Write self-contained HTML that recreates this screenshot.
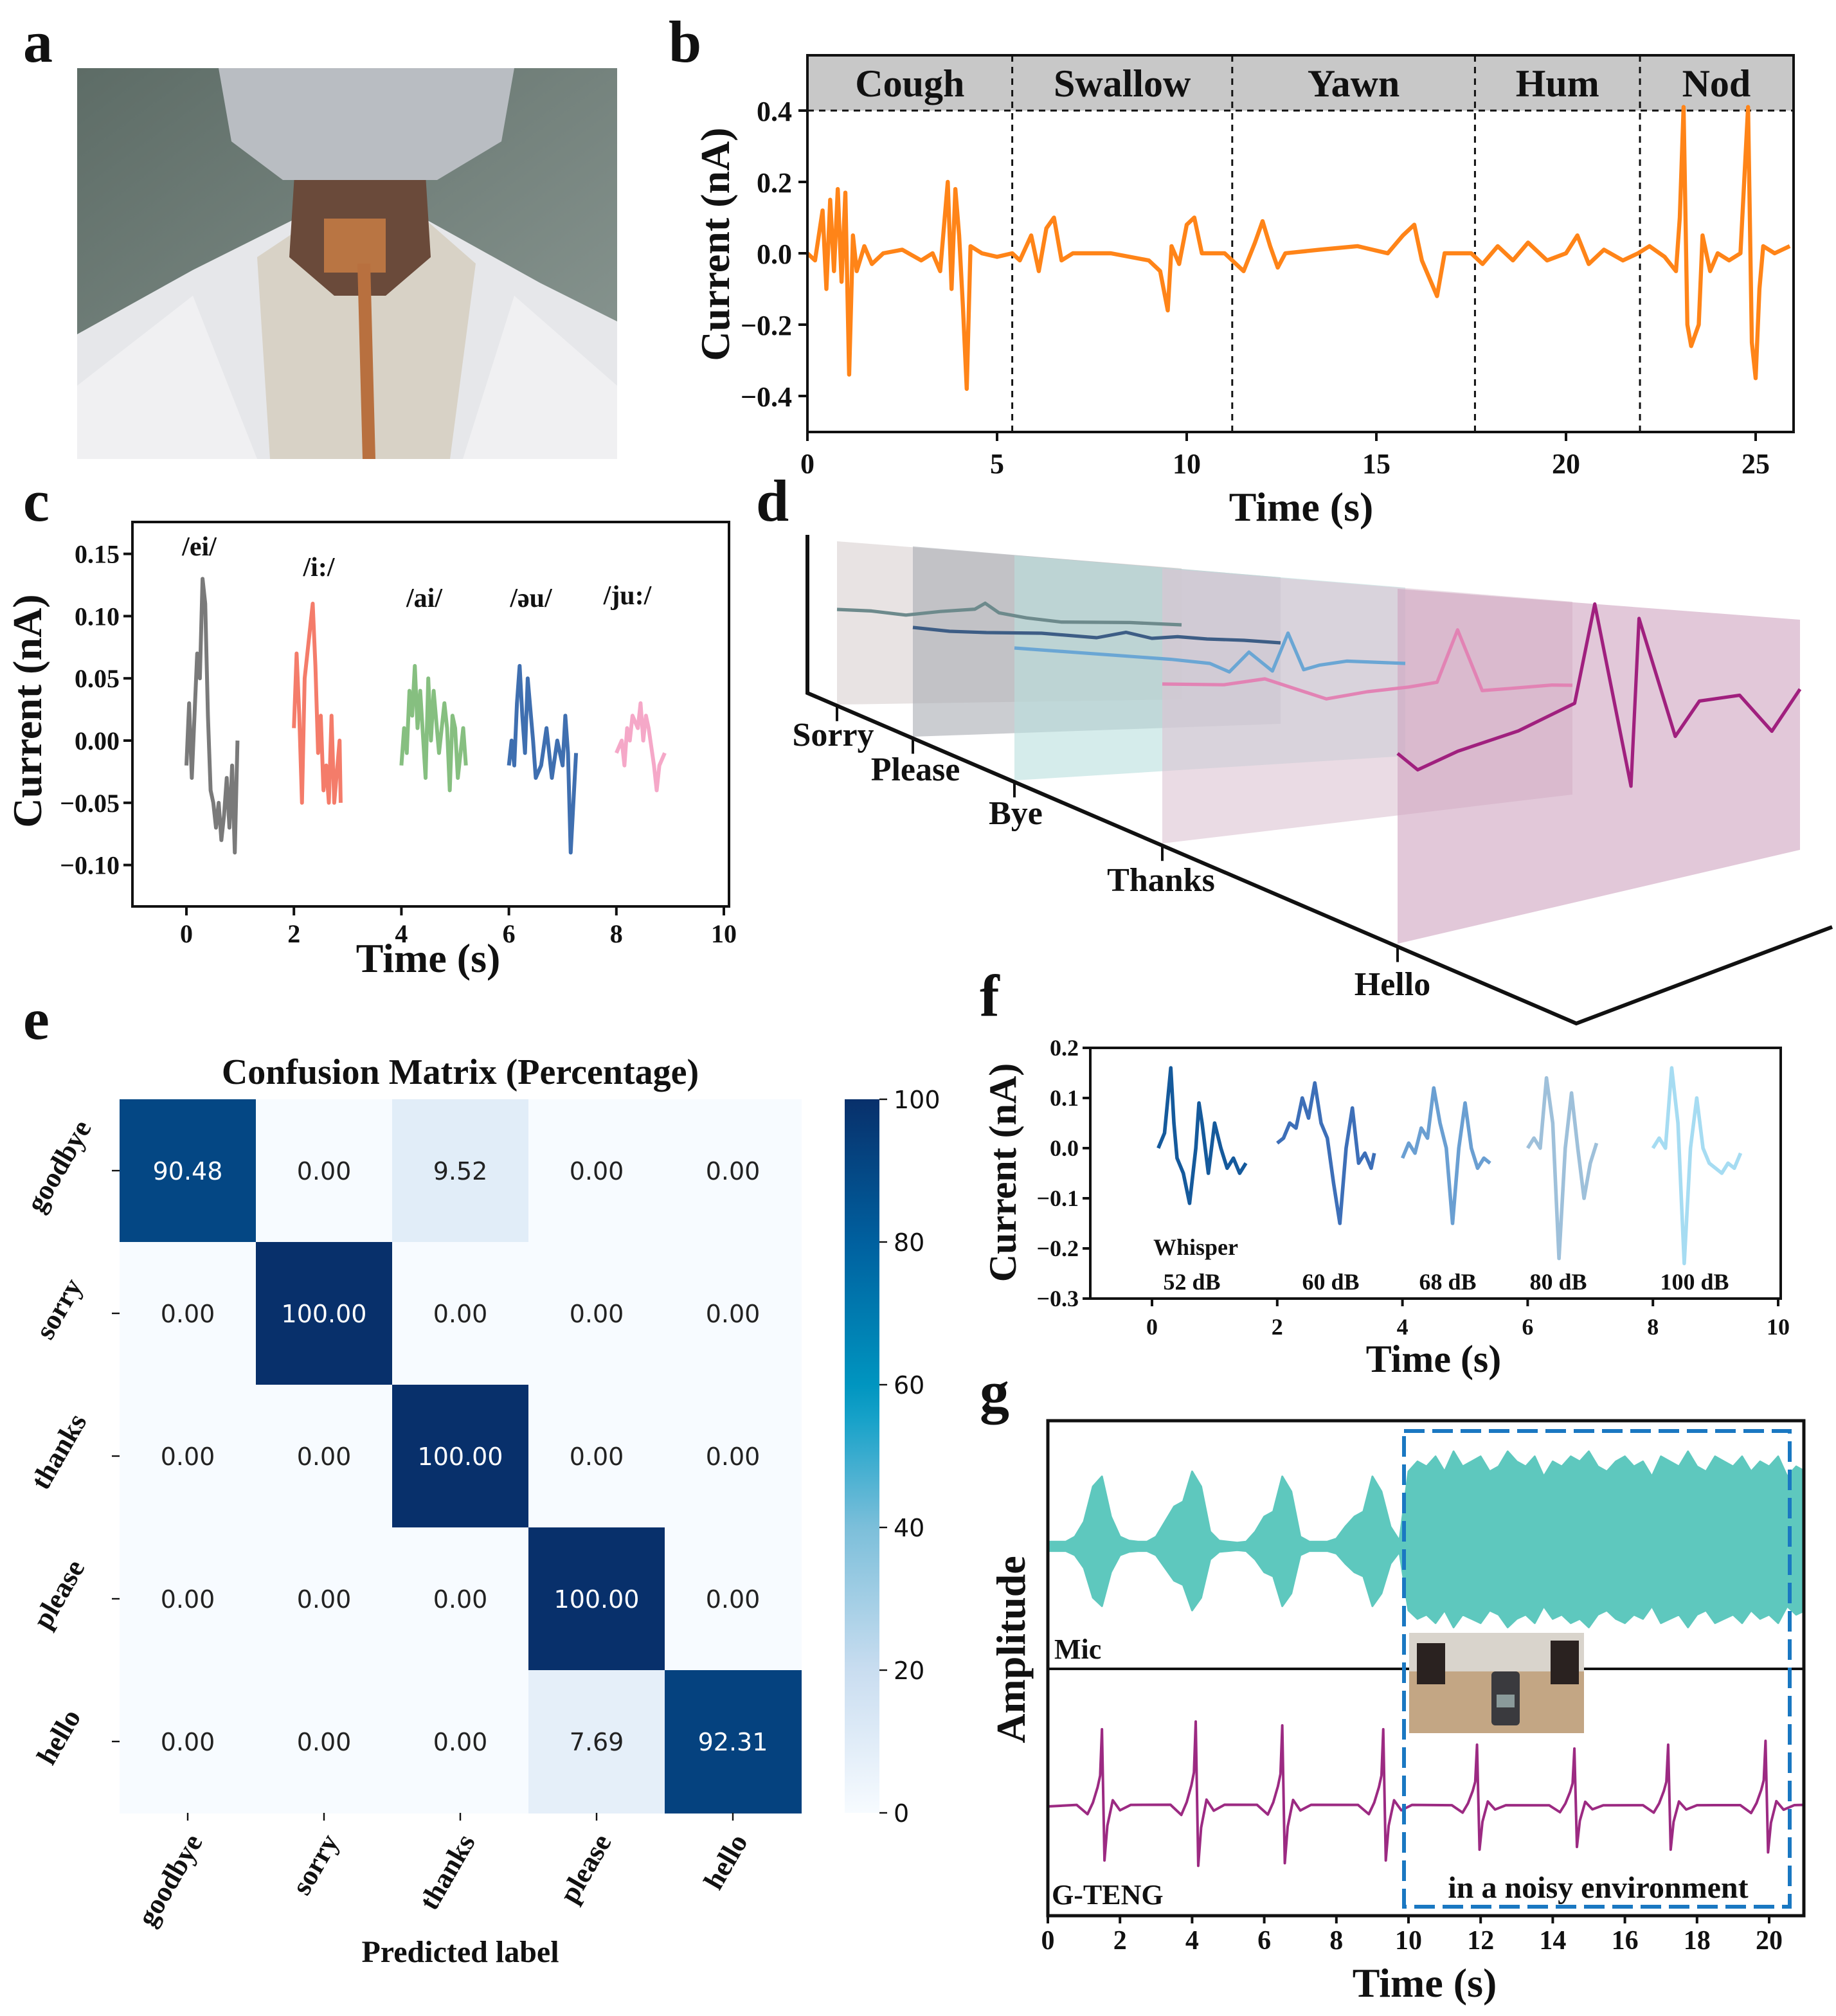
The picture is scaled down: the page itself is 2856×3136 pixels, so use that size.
<!DOCTYPE html>
<html><head><meta charset="utf-8"><style>
html,body{margin:0;padding:0;background:#fff}
svg{display:block}
text{font-family:"Liberation Serif",serif;font-weight:bold;fill:#111}
.dj{font-family:"DejaVu Sans","Liberation Sans",sans-serif;font-weight:normal}
</style></head><body>
<svg id="fig" xmlns="http://www.w3.org/2000/svg" width="2856" height="3136" viewBox="0 0 1428 1568">
<defs>
<linearGradient id="bgA" x1="0" y1="0" x2="1" y2="1"><stop offset="0" stop-color="#5d6c66"/><stop offset="1" stop-color="#8d9a95"/></linearGradient>
<linearGradient id="cbar" x1="0" y1="1" x2="0" y2="0">
<stop offset="0" stop-color="#f7fbff"/><stop offset="0.2" stop-color="#c9ddf0"/><stop offset="0.4" stop-color="#7cbfda"/><stop offset="0.55" stop-color="#18a2c9"/><stop offset="0.6" stop-color="#0095c0"/><stop offset="0.8" stop-color="#00609f"/><stop offset="1" stop-color="#08306b"/></linearGradient>
<clipPath id="gclip"><rect x="815" y="1105" width="588" height="385"/></clipPath>
</defs>
<text x="18" y="48" font-size="46">a</text>
<text x="520" y="48" font-size="46">b</text>
<text x="18" y="405" font-size="46">c</text>
<text x="588" y="405" font-size="46">d</text>
<text x="18" y="808" font-size="46">e</text>
<text x="762" y="790" font-size="46">f</text>
<text x="762" y="1098" font-size="46">g</text>

<g>
<rect x="60" y="53" width="420" height="304" fill="url(#bgA)"/>
<polygon points="60,260 150,210 230,170 330,170 420,220 480,250 480,357 60,357" fill="#e6e7ea"/>
<polygon points="200,200 245,170 330,170 370,205 350,357 210,357" fill="#d8d2c6"/>
<polygon points="230,120 330,120 335,200 300,230 260,230 225,200" fill="#6a4a3a"/>
<polygon points="170,53 400,53 390,110 340,140 220,140 180,110" fill="#b9bdc2"/>
<rect x="252" y="170" width="48" height="42" fill="#c27a45" opacity="0.9"/>
<polygon points="278,205 288,205 292,357 282,357" fill="#b8703f"/>
<polygon points="60,300 150,230 200,357 60,357" fill="#f0f0f2"/>
<polygon points="480,300 400,230 360,357 480,357" fill="#f0f0f2"/>
</g>

<g id="pb"></g>
<g id="pc"></g>
<g id="pd"></g>
<g id="pe"></g>
<g id="pf"></g>
<g id="pg"></g>
</svg>
<script>
const bT=[0,0.2,0.4,0.5,0.6,0.7,0.8,0.9,1.0,1.1,1.2,1.3,1.5,1.7,2.0,2.5,3.0,3.3,3.5,3.7,3.8,3.9,4.0,4.1,4.2,4.3,4.6,5.0,5.4,5.6,5.9,6.1,6.3,6.5,6.7,7.0,8.0,9.0,9.3,9.5,9.6,9.8,10.0,10.2,10.4,11.0,11.2,11.5,11.8,12.0,12.2,12.4,12.6,13.5,14.5,15.3,15.7,16.0,16.2,16.6,16.8,17.5,17.8,18.2,18.6,19.0,19.5,20.0,20.3,20.6,21.0,21.5,21.9,22.2,22.6,22.9,23.0,23.1,23.2,23.3,23.5,23.6,23.8,24.0,24.3,24.6,24.8,24.9,25.0,25.1,25.2,25.5,25.9];
const bV=[0,-0.02,0.12,-0.1,0.15,-0.05,0.18,-0.08,0.17,-0.34,0.05,-0.05,0.02,-0.03,0,0.01,-0.02,0,-0.05,0.2,-0.1,0.18,0.05,-0.15,-0.38,0.02,0,-0.01,0,-0.02,0.05,-0.05,0.07,0.1,-0.02,0,0,-0.02,-0.05,-0.16,0.02,-0.03,0.08,0.1,0,0,-0.02,-0.05,0.03,0.09,0.02,-0.04,0,0.01,0.02,0,0.05,0.08,-0.02,-0.12,0,0,-0.03,0.02,-0.02,0.03,-0.02,0,0.05,-0.03,0.01,-0.02,0,0.02,-0.01,-0.05,0.1,0.41,-0.2,-0.26,-0.2,0.05,-0.05,0,-0.02,0,0.41,-0.25,-0.35,-0.1,0.02,0,0.02];
const bSegNames=["Cough","Swallow","Yawn","Hum","Nod"];
const bSegBounds=[0,5.4,11.2,17.6,21.95,25.98];
const bXTicks=[0,5,10,15,20,25];
const bYTicks=[-0.4,-0.2,0.0,0.2,0.4];

const cNames=["/ei/","/i:/","/ai/","/əu/","/ju:/"];
const cColors=["#7a7a7a","#f47c6a","#86bf80","#3f6fb0","#f5a8c8"];
const cT=[
[0,0.05,0.1,0.15,0.2,0.25,0.3,0.35,0.4,0.45,0.5,0.55,0.6,0.65,0.7,0.75,0.8,0.85,0.9,0.95],
[2.0,2.05,2.1,2.15,2.2,2.3,2.35,2.4,2.45,2.5,2.55,2.6,2.65,2.7,2.75,2.85,2.87],
[4.0,4.05,4.1,4.15,4.2,4.25,4.3,4.35,4.45,4.5,4.55,4.6,4.7,4.8,4.85,4.9,4.95,5.0,5.05,5.15,5.2],
[6.0,6.05,6.1,6.15,6.2,6.25,6.3,6.35,6.45,6.5,6.6,6.7,6.8,6.9,7.0,7.05,7.1,7.15,7.25],
[8.0,8.1,8.15,8.2,8.25,8.3,8.4,8.45,8.5,8.55,8.6,8.7,8.75,8.8,8.9]];
const cV=[
[-0.02,0.03,-0.03,0.02,0.07,0.05,0.13,0.11,0.02,-0.04,-0.05,-0.07,-0.05,-0.08,-0.06,-0.03,-0.07,-0.02,-0.09,0.0],
[0.01,0.07,0.02,-0.05,0.05,0.09,0.11,0.06,-0.01,0.02,-0.04,-0.02,-0.05,0.02,-0.05,0.0,-0.05],
[-0.02,0.01,-0.01,0.04,0.02,0.06,0.01,0.04,-0.03,0.05,0.0,0.04,-0.01,0.03,0.01,-0.04,0.02,0.01,-0.03,0.01,-0.02],
[-0.02,0.0,-0.02,0.03,0.06,0.02,-0.01,0.05,0.0,-0.03,-0.02,0.01,-0.03,0.0,-0.02,0.02,-0.01,-0.09,-0.01],
[-0.01,0.0,-0.02,0.01,0.0,0.02,0.01,0.03,0.0,0.02,0.01,-0.02,-0.04,-0.02,-0.01]];
const cXTicks=[0,2,4,6,8,10];
const cYTicks=[0.15,0.10,0.05,0.00,-0.05,-0.10];

const eRows=["goodbye","sorry","thanks","please","hello"];
const eCols=["goodbye","sorry","thanks","please","hello"];
const eVals=[[90.48,0,9.52,0,0],[0,100,0,0,0],[0,0,100,0,0],[0,0,0,100,0],[0,0,0,7.69,92.31]];
const eCbarTicks=[0,20,40,60,80,100];

const fNames=["52 dB","60 dB","68 dB","80 dB","100 dB"];
const fColors=["#155a9c","#3d6fb8","#6a9fd2","#9ec0da","#a6dcf2"];
const fT=[
[0.1,0.2,0.3,0.35,0.4,0.5,0.6,0.7,0.75,0.8,0.9,1.0,1.1,1.2,1.3,1.4,1.5],
[2.0,2.1,2.2,2.3,2.4,2.5,2.6,2.7,2.8,2.9,3.0,3.1,3.2,3.3,3.4,3.5,3.55],
[4.0,4.1,4.2,4.3,4.4,4.5,4.6,4.7,4.8,4.9,5.0,5.1,5.2,5.3,5.4],
[6.0,6.1,6.2,6.3,6.4,6.5,6.6,6.7,6.8,6.9,7.0,7.1],
[8.0,8.1,8.2,8.3,8.4,8.5,8.6,8.7,8.8,8.9,9.0,9.1,9.2,9.3,9.4]];
const fV=[
[0.0,0.03,0.16,0.05,-0.02,-0.05,-0.11,0.0,0.09,0.05,-0.05,0.05,0.0,-0.04,-0.02,-0.05,-0.03],
[0.01,0.02,0.05,0.04,0.1,0.06,0.13,0.05,0.02,-0.07,-0.15,0.0,0.08,-0.03,-0.01,-0.04,-0.01],
[-0.02,0.01,-0.01,0.04,0.02,0.12,0.05,0.0,-0.15,0.0,0.09,0.0,-0.04,-0.02,-0.03],
[0.0,0.02,0.0,0.14,0.05,-0.22,0.0,0.11,0.0,-0.1,-0.03,0.01],
[0.0,0.02,0.0,0.16,0.05,-0.23,0.0,0.1,0.0,-0.03,-0.04,-0.05,-0.03,-0.04,-0.01]];
const fXTicks=[0,2,4,6,8,10];
const fYTicks=[0.2,0.1,0.0,-0.1,-0.2,-0.3];

const gMicStep=0.25;
const gMicAmp=[0.05,0.05,0.05,0.1,0.25,0.6,0.7,0.3,0.1,0.06,0.05,0.05,0.1,0.25,0.4,0.45,0.75,0.6,0.15,0.06,0.05,0.04,0.05,0.15,0.3,0.35,0.7,0.55,0.1,0.05,0.05,0.05,0.08,0.2,0.3,0.35,0.7,0.55,0.2,0.06,0.75,
0.85,0.8,0.9,0.75,0.95,0.8,0.85,0.9,0.75,0.8,0.95,0.85,0.8,0.9,0.7,0.85,0.8,0.9,0.85,0.95,0.8,0.75,0.85,0.9,0.8,0.85,0.7,0.9,0.85,0.8,0.95,0.8,0.75,0.9,0.85,0.8,0.9,0.75,0.85,0.8,0.9,0.7,0.8,0.75];
const gPeakT=[1.5,4.1,6.5,9.3,11.9,14.6,17.2,19.9];
const gPeakAmp=[1.0,1.1,1.05,1.0,0.8,0.75,0.8,0.85];
const gTplOff=[-0.7,-0.4,-0.25,-0.12,-0.05,0,0.07,0.15,0.3,0.5,0.8];
const gTplVal=[0.02,-0.1,0.05,0.25,0.4,1.0,-0.7,-0.25,0.08,-0.05,0.02];
const gXTicks=[0,2,4,6,8,10,12,14,16,18,20];

const dWords=["Sorry","Please","Bye","Thanks","Hello"];
const dPlaneColors=["#d8d0d0","#a9abb2","#b9e0dd","#dcc3d2","#cfa3bf"];
const dLineColors=["#6d8a8c","#3d5d85","#6aa6d4","#e283b4","#a0207e"];
const dLineU=[
[0,0.1,0.2,0.3,0.4,0.43,0.47,0.55,0.65,0.75,0.85,1.0],
[0,0.1,0.2,0.35,0.5,0.58,0.65,0.72,0.8,0.9,1.0],
[0,0.2,0.4,0.5,0.55,0.6,0.66,0.7,0.74,0.78,0.85,1.0],
[0,0.15,0.25,0.4,0.5,0.55,0.6,0.67,0.72,0.78,0.85,0.95,1.0],
[0,0.05,0.15,0.3,0.44,0.49,0.58,0.6,0.69,0.75,0.85,0.93,1.0]];
const dLineV=[
[0,0,-2,2,5,10,3,0,-2,-1,0,0],
[0,-2,-2,-1,-3,2,-2,0,-1,-1,-2],
[0,-2,-4,-6,-12,4,-10,20,-8,-4,0,0],
[0,0,5,-10,-4,-2,0,4,45,-2,0,3,3],
[0,-14,-2,10,28,104,-40,90,-4,22,24,-6,25]];

const NS="http://www.w3.org/2000/svg";
function mk(parent,tag,attrs,txt){const e=document.createElementNS(NS,tag);for(const k in attrs)e.setAttribute(k,attrs[k]);if(txt!==undefined)e.textContent=txt;parent.appendChild(e);return e;}
function fmt(v,d){return v.toFixed(d).replace("-","−");}

(function(){
const g=document.getElementById('pb');
const X0=628,X1=1395,Y0=43,Y1=336;
const bx=t=>628+t*29.5, by=v=>197-v*277.5;
let r=mk(g,'rect',{x:X0,y:Y0,width:X1-X0,height:86-Y0,fill:'#c8c8c8'});


for(let i=0;i<bSegNames.length;i++){
 const xm=(bx(bSegBounds[i])+bx(bSegBounds[i+1]))/2;
 let t=mk(g,'text',{x:xm,y:75,'font-size':30,'text-anchor':'middle'},bSegNames[i]);
 
 
 if(i>0){let l=mk(g,'line',{x1:bx(bSegBounds[i]),x2:bx(bSegBounds[i]),y1:Y0,y2:Y1,stroke:'#111','stroke-width':1.5,'stroke-dasharray':'5,4'});
 
 }
}
let hl=mk(g,'line',{x1:X0,x2:X1,y1:86,y2:86,stroke:'#111','stroke-width':1.5,'stroke-dasharray':'5,4'});


let p=mk(g,'polyline',{points:bT.map((t,i)=>bx(t)+','+by(bV[i])).join(' '),fill:'none',stroke:'#ff8418','stroke-width':3.2,'stroke-linejoin':'round'});


let fr=mk(g,'rect',{x:X0,y:Y0,width:X1-X0,height:Y1-Y0,fill:'none',stroke:'#111','stroke-width':2});


bXTicks.forEach(v=>{mk(g,'line',{x1:bx(v),x2:bx(v),y1:Y1,y2:Y1+7,stroke:'#111','stroke-width':2});
 let t=mk(g,'text',{x:bx(v),y:Y1+32,'font-size':22,'text-anchor':'middle'},String(v));
 
 });
bYTicks.forEach(v=>{mk(g,'line',{x1:X0-7,x2:X0,y1:by(v),y2:by(v),stroke:'#111','stroke-width':2});
 let t=mk(g,'text',{x:X0-12,y:by(v)+8,'font-size':22,'text-anchor':'end'},fmt(v,1));
 
 });
let yl=mk(g,'text',{x:0,y:0,'font-size':32,'text-anchor':'middle',transform:'translate(567,190) rotate(-90)'},'Current (nA)');


let xl=mk(g,'text',{x:1012,y:405,'font-size':32,'text-anchor':'middle'},'Time (s)');


})();

(function(){
const g=document.getElementById('pc');
const X0=103,X1=567,Y0=406,Y1=705;
const cx=t=>145+t*41.8, cy=v=>576-v*968;
const labPos=[[155,432],[248,448],[330,472],[413,472],[488,470]];
for(let i=0;i<cT.length;i++){
 let p=mk(g,'polyline',{points:cT[i].map((t,j)=>cx(t)+','+cy(cV[i][j])).join(' '),fill:'none',stroke:cColors[i],'stroke-width':3,'stroke-linejoin':'round'});
 
 
 let t=mk(g,'text',{x:labPos[i][0],y:labPos[i][1],'font-size':21,'text-anchor':'middle'},cNames[i]);
 
 
}
let fr=mk(g,'rect',{x:X0,y:Y0,width:X1-X0,height:Y1-Y0,fill:'none',stroke:'#111','stroke-width':2});


cXTicks.forEach(v=>{mk(g,'line',{x1:cx(v),x2:cx(v),y1:Y1,y2:Y1+7,stroke:'#111','stroke-width':2});
 let t=mk(g,'text',{x:cx(v),y:Y1+28,'font-size':20,'text-anchor':'middle'},String(v));
 
 });
cYTicks.forEach(v=>{mk(g,'line',{x1:X0-7,x2:X0,y1:cy(v),y2:cy(v),stroke:'#111','stroke-width':2});
 let t=mk(g,'text',{x:X0-10,y:cy(v)+7,'font-size':20,'text-anchor':'end'},fmt(v,2));
 
 });
let yl=mk(g,'text',{x:0,y:0,'font-size':32,'text-anchor':'middle',transform:'translate(32,553) rotate(-90)'},'Current (nA)');


let xl=mk(g,'text',{x:333,y:756,'font-size':32,'text-anchor':'middle'},'Time (s)');


})();

(function(){
const g=document.getElementById('pd');
const planes=[[651,919,421,442,548,544],[710,996,425,449,573,563],[789,1093,432,457,607,588],[904,1223,442,468,656,618],[1087,1400,458,482,734,661]];
const lineY=[[474,486],[488,498],[504,516],[532,536],[586,561]];
for(let i=0;i<5;i++){
 const [L,R,tl,tr,bl,br]=planes[i];
 let pl=mk(g,'polygon',{points:`${L},${tl} ${R},${tr} ${R},${br} ${L},${bl}`,fill:dPlaneColors[i],opacity:0.6});
 
 
}
for(let i=0;i<5;i++){
 const [L,R]=planes[i];const [ya,yb]=lineY[i];
 const pts=dLineU[i].map((u,j)=>{const x=L+u*(R-L);const y=ya+u*(yb-ya)-dLineV[i][j];return x+','+y;}).join(' ');
 let p=mk(g,'polyline',{points:pts,fill:'none',stroke:dLineColors[i],'stroke-width':2.6,'stroke-linejoin':'round'});
 
 
}
let ax=mk(g,'polyline',{points:'628,416 628,539 1226,796 1425,721',fill:'none',stroke:'#111','stroke-width':3});


const labs=[[648,580],[712,607],[790,641],[903,693],[1083,774]];
for(let i=0;i<5;i++){
 const L=planes[i][0];const yb=539+(L-628)*(257/598);
 mk(g,'line',{x1:L,x2:L,y1:yb,y2:yb+12,stroke:'#111','stroke-width':2});
 let t=mk(g,'text',{x:labs[i][0],y:labs[i][1],'font-size':26,'text-anchor':'middle'},dWords[i]);
 
 
}
})();

(function(){
const g=document.getElementById('pe');
const X0=93,Y0=855,W=106,H=111;
const stops=[[0,[247,251,255]],[20,[201,221,240]],[40,[124,191,218]],[55,[24,162,201]],[60,[0,149,192]],[80,[0,96,159]],[100,[8,48,107]]];
function col(v){for(let k=1;k<stops.length;k++){if(v<=stops[k][0]){const a=stops[k-1],b=stops[k];const f=(v-a[0])/(b[0]-a[0]);const c=a[1].map((x,i)=>Math.round(x+(b[1][i]-x)*f));return `rgb(${c})`;}}return 'rgb(8,48,107)';}
for(let r=0;r<5;r++)for(let c=0;c<5;c++){
 const v=eVals[r][c];
 let rc=mk(g,'rect',{x:X0+c*W,y:Y0+r*H,width:W+0.5,height:H+0.5,fill:col(v)});
 
 
 let t=mk(g,'text',{x:X0+c*W+W/2,y:Y0+r*H+H/2+7,'font-size':19,'text-anchor':'middle',class:'dj',style:'fill:'+(v>50?'#fff':'#222')},v.toFixed(2));
 
 
}
eRows.forEach((n,r)=>{const y=Y0+r*H+H/2;mk(g,'line',{x1:X0-6,x2:X0,y1:y,y2:y,stroke:'#111','stroke-width':1.2});
 let t=mk(g,'text',{x:0,y:0,'font-size':22,'text-anchor':'middle',transform:`translate(52,${y}) rotate(-60)`},n);
 
 });
eCols.forEach((n,c)=>{const x=X0+c*W+W/2;mk(g,'line',{x1:x,x2:x,y1:Y0+5*H,y2:Y0+5*H+6,stroke:'#111','stroke-width':1.2});
 let t=mk(g,'text',{x:0,y:0,'font-size':22,'text-anchor':'end',transform:`translate(${x+12},${Y0+5*H+22}) rotate(-60)`},n);
 
 });
let ti=mk(g,'text',{x:358,y:843,'font-size':28,'text-anchor':'middle'},'Confusion Matrix (Percentage)');


let xl=mk(g,'text',{x:358,y:1526,'font-size':24,'text-anchor':'middle'},'Predicted label');


let cb=mk(g,'rect',{x:657,y:855,width:27,height:555,fill:'url(#cbar)'});


eCbarTicks.forEach(v=>{const y=1410-v*5.55;mk(g,'line',{x1:684,x2:690,y1:y,y2:y,stroke:'#111','stroke-width':1.2});
 let t=mk(g,'text',{x:695,y:y+7,'font-size':19,class:'dj'},String(v));
 
 });
})();

(function(){
const g=document.getElementById('pf');
const X0=848,X1=1385,Y0=815,Y1=1010;
const fx=t=>896+t*48.7, fy=v=>893-v*390;
const labx=[927,1035,1126,1212,1318];
for(let i=0;i<fT.length;i++){
 let p=mk(g,'polyline',{points:fT[i].map((t,j)=>fx(t)+','+fy(fV[i][j])).join(' '),fill:'none',stroke:fColors[i],'stroke-width':2.8,'stroke-linejoin':'round'});
 
 
 let t=mk(g,'text',{x:labx[i],y:1003,'font-size':18,'text-anchor':'middle'},fNames[i]);
 
 
}
let w=mk(g,'text',{x:930,y:976,'font-size':18,'text-anchor':'middle'},'Whisper');


let fr=mk(g,'rect',{x:X0,y:Y0,width:X1-X0,height:Y1-Y0,fill:'none',stroke:'#111','stroke-width':2});


fXTicks.forEach(v=>{mk(g,'line',{x1:fx(v),x2:fx(v),y1:Y1,y2:Y1+6,stroke:'#111','stroke-width':2});
 let t=mk(g,'text',{x:fx(v),y:Y1+28,'font-size':18,'text-anchor':'middle'},String(v));
 
 });
fYTicks.forEach(v=>{mk(g,'line',{x1:X0-6,x2:X0,y1:fy(v),y2:fy(v),stroke:'#111','stroke-width':2});
 let t=mk(g,'text',{x:X0-9,y:fy(v)+6,'font-size':18,'text-anchor':'end'},fmt(v,1));
 
 });
let yl=mk(g,'text',{x:0,y:0,'font-size':30,'text-anchor':'middle',transform:'translate(790,912) rotate(-90)'},'Current (nA)');


let xl=mk(g,'text',{x:1115,y:1067,'font-size':30,'text-anchor':'middle'},'Time (s)');


})();

(function(){
const g=document.getElementById('pg');
const X0=815,X1=1403,Y0=1105,Y1=1490;
const gx=t=>815+t*28.05;
const micC=1203, tenC=1405;
const clipG=mk(g,'g',{'clip-path':'url(#gclip)'});
let top=[],bot=[];
gMicAmp.forEach((a,i)=>{const t=i*gMicStep;top.push(gx(t)+','+(micC-a*78));bot.unshift(gx(t)+','+(micC+a*66));});
let mp=mk(clipG,'polygon',{points:top.concat(bot).join(' '),fill:'#5ec8be',stroke:'#5ec8be','stroke-width':1.5,'stroke-linejoin':'round'});


let pts=[[0,0]];
gPeakT.forEach((pt,i)=>{gTplOff.forEach((o,j)=>pts.push([pt+o,gTplVal[j]*gPeakAmp[i]]));});
pts.push([21,0.02]);
let tp=mk(clipG,'polyline',{points:pts.map(p=>gx(p[0])+','+(tenC-p[1]*60)).join(' '),fill:'none',stroke:'#9c2a82','stroke-width':2,'stroke-linejoin':'round'});


let mid=mk(g,'line',{x1:X0,x2:X1,y1:1298,y2:1298,stroke:'#111','stroke-width':2});


let db=mk(g,'rect',{x:1092,y:1113,width:300,height:370,fill:'none',stroke:'#1a78c2','stroke-width':3,'stroke-dasharray':'16,6'});


let ins=mk(g,'g',{});


mk(ins,'rect',{x:1096,y:1270,width:136,height:78,fill:'#c3a684'});
mk(ins,'rect',{x:1096,y:1270,width:136,height:30,fill:'#d9d4cc'});
mk(ins,'rect',{x:1102,y:1278,width:22,height:32,fill:'#2a2220'});
mk(ins,'rect',{x:1206,y:1276,width:22,height:34,fill:'#2a2220'});
mk(ins,'rect',{x:1160,y:1300,width:22,height:42,fill:'#3a3a3e',rx:3});
mk(ins,'rect',{x:1164,y:1318,width:14,height:10,fill:'#8a9a9a'});
let fr=mk(g,'rect',{x:X0,y:Y0,width:X1-X0,height:Y1-Y0,fill:'none',stroke:'#111','stroke-width':2.5});


gXTicks.forEach(v=>{mk(g,'line',{x1:gx(v),x2:gx(v),y1:Y1,y2:Y1+6,stroke:'#111','stroke-width':2});
 let t=mk(g,'text',{x:gx(v),y:Y1+26,'font-size':21,'text-anchor':'middle'},String(v));
 
 });
let m=mk(g,'text',{x:820,y:1290,'font-size':22},'Mic');


let gt=mk(g,'text',{x:818,y:1481,'font-size':22},'G-TENG');


let nt=mk(g,'text',{x:1243,y:1476,'font-size':24,'text-anchor':'middle'},'in a noisy environment');


let yl=mk(g,'text',{x:0,y:0,'font-size':32,'text-anchor':'middle',transform:'translate(797,1283) rotate(-90)'},'Amplitude');


let xl=mk(g,'text',{x:1108,y:1553,'font-size':32,'text-anchor':'middle'},'Time (s)');


})();
</script>
</body></html>
